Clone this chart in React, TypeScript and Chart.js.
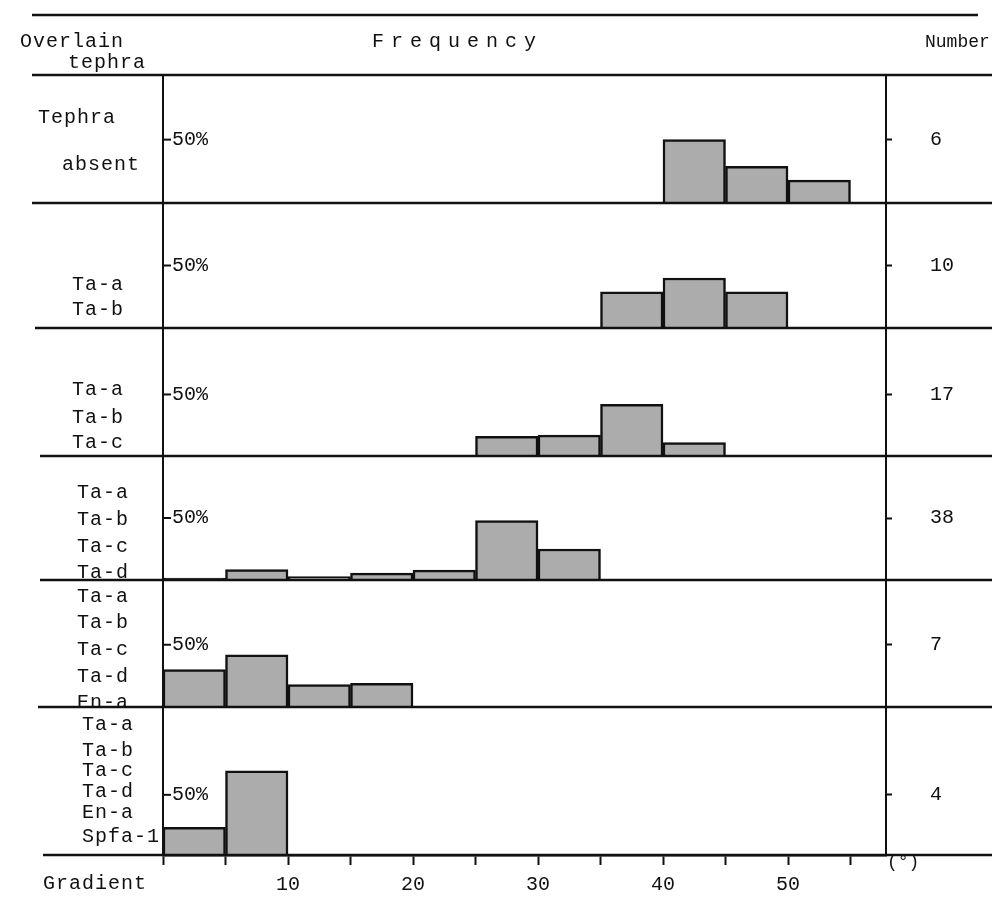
import React, { useEffect, useRef } from 'react';
import { Chart, registerables } from 'chart.js';

Chart.register(...registerables);

// ---- data ----
const binStarts = [0, 5, 10, 15, 20, 25, 30, 35, 40, 45, 50];
const freqTephraAbsent = [null, null, null, null, null, null, null, null, 50, 29, 18];
const freqTaAB = [null, null, null, null, null, null, null, 29, 40, 29, null];
const freqTaABC = [null, null, null, null, null, 16, 17, 42, 11, null, null];
const freqTaABCD = [1.5, 8.5, 2.8, 5.5, 8, 48, 25, null, null, null, null];
const freqTaABCDEnA = [30, 42, 18, 19, null, null, null, null, null, null, null];
const freqTaABCDEnASpfa = [23, 70, null, null, null, null, null, null, null, null, null];
const sampleCounts = [6, 10, 17, 38, 7, 4];
const tephraLabels = [
  ['Tephra', 'absent'],
  ['Ta-a', 'Ta-b'],
  ['Ta-a', 'Ta-b', 'Ta-c'],
  ['Ta-a', 'Ta-b', 'Ta-c', 'Ta-d'],
  ['Ta-a', 'Ta-b', 'Ta-c', 'Ta-d', 'En-a'],
  ['Ta-a', 'Ta-b', 'Ta-c', 'Ta-d', 'En-a', 'Spfa-1'],
];
const xTickLabels = [10, 20, 30, 40, 50];
const frequencyTick = 50;

const panels = [freqTephraAbsent, freqTaAB, freqTaABC, freqTaABCD, freqTaABCDEnA, freqTaABCDEnASpfa];

// ---- layout (positions / sizes only) ----
const W = 992;
const H = 898;
const AREA_LEFT = 163;
const AREA_RIGHT = 886;
const AREA_TOP = 75;
const AREA_BOTTOM = 855;
const X_MAX = 57.84;
const panelHeights = [128, 125, 128, 124, 127, 148];
const panelMax = [101, 100, 104, 100, 102, 123];
const dividerStart = [32, 35, 40, 40, 38, 43];
const labelPos = [
  [[38, 118], [62, 165]],
  [[72, 285], [72, 310]],
  [[72, 390], [72, 418], [72, 443]],
  [[77, 493], [77, 520], [77, 547], [77, 573]],
  [[77, 597], [77, 623], [77, 650], [77, 677], [77, 703]],
  [[82, 725], [82, 751], [82, 771], [82, 792], [82, 813], [82, 837]],
];
const FONT = "'Liberation Mono', 'DejaVu Sans Mono', monospace";
const INK = '#111';

const framePlugin = {
  id: 'frame',
  afterDraw(chart: any) {
    const ctx = chart.ctx;
    ctx.save();
    ctx.strokeStyle = INK;
    const line = (x1: number, y1: number, x2: number, y2: number, w: number) => {
      ctx.lineWidth = w;
      ctx.beginPath();
      ctx.moveTo(x1, y1);
      ctx.lineTo(x2, y2);
      ctx.stroke();
    };
    line(32, 15, 978, 15, 2.5);
    line(32, chart.chartArea.top, W, chart.chartArea.top, 2.5);
    panels.forEach((_, i) => {
      const s = chart.scales['y' + i];
      line(dividerStart[i], s.bottom, W, s.bottom, 2.5);
      const y = s.getPixelForValue(frequencyTick);
      line(s.right, y, s.right + 8, y, 2);
    });
    ctx.restore();
  },
};

function zeroPad(s: any) {
  s.paddingTop = 0;
  s.paddingBottom = 0;
  s.paddingLeft = 0;
  s.paddingRight = 0;
}

export default function App() {
  const ref = useRef<HTMLCanvasElement | null>(null);

  useEffect(() => {
    if (!ref.current) return;
    Chart.defaults.font.family = FONT;
    Chart.defaults.color = INK;

    const scales: any = {
      x: {
        type: 'linear',
        min: 0,
        max: X_MAX,
        offset: false,
        grid: {
          display: true,
          drawOnChartArea: false,
          drawTicks: true,
          tickLength: 10,
          tickWidth: 2,
          tickColor: INK,
          color: INK,
          offset: false,
        },
        border: { display: true, color: INK, width: 2.5 },
        ticks: {
          stepSize: 5,
          includeBounds: false,
          autoSkip: false,
          maxRotation: 0,
          minRotation: 0,
          padding: 8,
          color: INK,
          font: { size: 20 },
          callback: (v: any) => (xTickLabels.includes(Number(v)) ? String(v) : ''),
        },
        afterFit: (s: any) => {
          s.height = H - AREA_BOTTOM;
          zeroPad(s);
        },
      },
    };

    panels.forEach((_, i) => {
      scales['y' + i] = {
        type: 'linear',
        position: 'left',
        stack: 'leftStack',
        stackWeight: panelHeights[i],
        weight: 10 - i,
        min: 0,
        max: panelMax[i],
        grid: { display: true, drawOnChartArea: false, drawTicks: false, color: INK },
        border: { display: true, color: INK, width: 2 },
        ticks: {
          mirror: true,
          padding: 9,
          color: INK,
          font: { size: 20 },
          callback: () => frequencyTick + '%',
        },
        afterBuildTicks: (s: any) => {
          s.ticks = [{ value: frequencyTick }];
        },
        afterFit: (s: any) => {
          s.width = 0;
          zeroPad(s);
        },
      };
      scales['r' + i] = {
        type: 'linear',
        position: 'right',
        stack: 'rightStack',
        stackWeight: panelHeights[i],
        weight: i + 1,
        min: 0,
        max: panelMax[i],
        grid: {
          display: true,
          drawOnChartArea: false,
          drawTicks: true,
          tickLength: 6,
          tickWidth: 2,
          tickColor: INK,
          color: INK,
        },
        border: { display: true, color: INK, width: 2 },
        ticks: {
          padding: 38,
          crossAlign: 'center',
          color: INK,
          font: { size: 20 },
          callback: () => String(sampleCounts[i]),
        },
        afterBuildTicks: (s: any) => {
          s.ticks = [{ value: frequencyTick }];
        },
        afterFit: (s: any) => {
          s.width = W - AREA_RIGHT;
          zeroPad(s);
        },
      };
    });

    const chart = new Chart(ref.current, {
      type: 'bar',
      data: {
        datasets: panels.map((freqs, i) => ({
          type: 'bar' as const,
          label: tephraLabels[i].join(' '),
          data: binStarts.map((b, j) => ({ x: b + 2.5, y: freqs[j] as any })),
          yAxisID: 'y' + i,
          xAxisID: 'x',
          backgroundColor: '#acacac',
          borderColor: INK,
          borderWidth: 2.5,
          barPercentage: 1,
          categoryPercentage: 1,
          grouped: false,
        })),
      },
      options: {
        responsive: false,
        animation: false,
        devicePixelRatio: 1,
        layout: { padding: { left: AREA_LEFT, top: AREA_TOP, right: 0, bottom: 0 } },
        plugins: { legend: { display: false }, tooltip: { enabled: false } },
        scales,
      } as any,
      plugins: [framePlugin],
    });
    return () => chart.destroy();
  }, []);

  const textStyle = (x: number, y: number, extra: any = {}) => ({
    position: 'absolute' as const,
    left: x,
    top: y - 11,
    lineHeight: '22px',
    fontFamily: FONT,
    fontSize: 20,
    letterSpacing: '1px',
    color: INK,
    whiteSpace: 'nowrap' as const,
    ...extra,
  });

  return (
    <div style={{ position: 'absolute', left: 0, top: 0, width: W, height: H, background: '#fff', overflow: 'hidden' }}>
      <canvas ref={ref} width={W} height={H} style={{ position: 'absolute', left: 0, top: 0, width: W, height: H }} />
      <div style={textStyle(20, 42)}>Overlain</div>
      <div style={textStyle(68, 63)}>tephra</div>
      <div style={textStyle(372, 42, { letterSpacing: '7px' })}>Frequency</div>
      <div style={textStyle(925, 42, { fontSize: 18, letterSpacing: '0px' })}>Number</div>
      <div style={textStyle(43, 884)}>Gradient</div>
      <div style={textStyle(887, 862, { fontSize: 18, letterSpacing: '0px' })}>(°)</div>
      {tephraLabels.map((lines, i) =>
        lines.map((t, j) => (
          <div key={i + '-' + j} style={textStyle(labelPos[i][j][0], labelPos[i][j][1])}>
            {t}
          </div>
        ))
      )}
    </div>
  );
}
